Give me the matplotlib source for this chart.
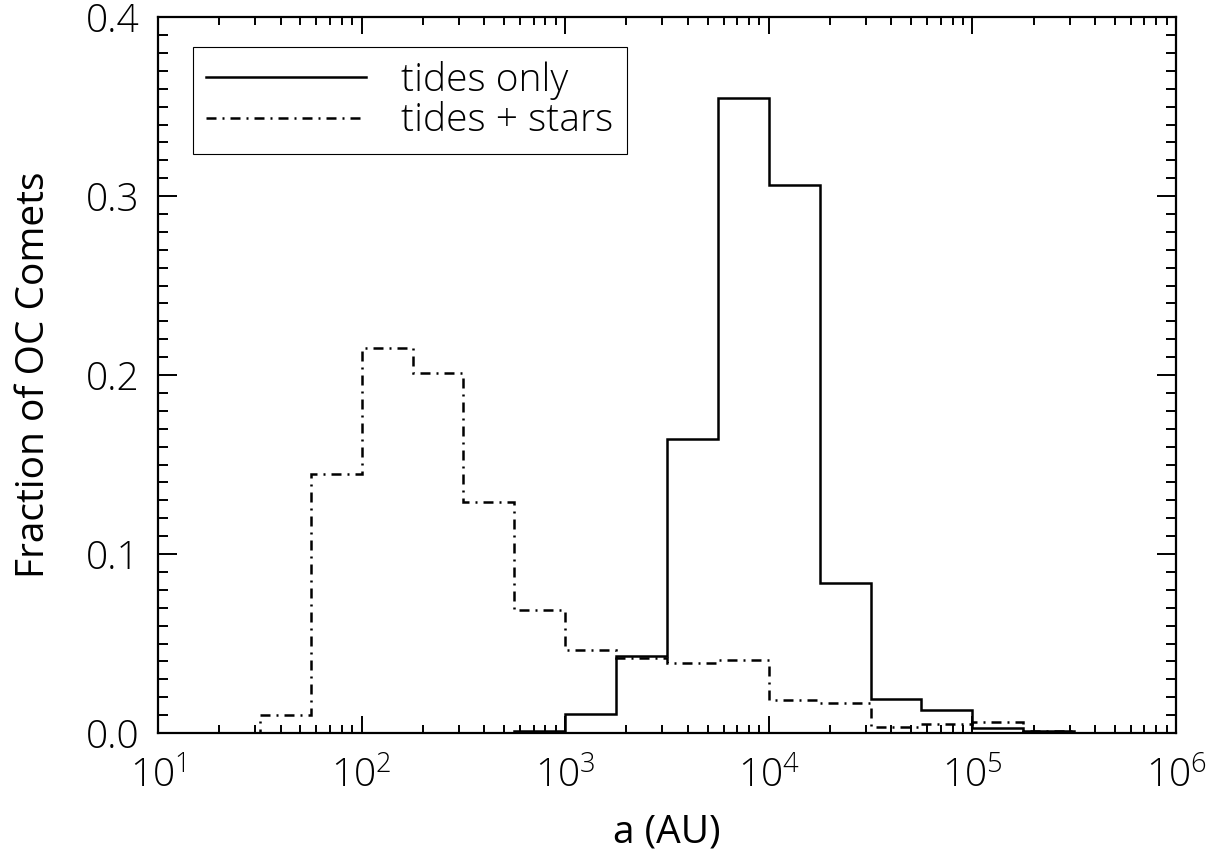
import numpy as np
import matplotlib
matplotlib.use("Agg")
import matplotlib.pyplot as plt
from matplotlib.ticker import LogLocator, MultipleLocator, FormatStrFormatter

# quarter-decade bins in semi-major axis, 10 AU .. 10^5.5 AU
log_edges = np.arange(1.0, 5.5 + 0.001, 0.25)
bin_edges = 10 ** log_edges

tides_only = [0, 0, 0, 0, 0, 0, 0, 0.001, 0.0106, 0.043, 0.164, 0.355,
              0.306, 0.0836, 0.0188, 0.013, 0.003, 0.001]
tides_stars = [0, 0, 0.010, 0.1445, 0.215, 0.201, 0.129, 0.0687, 0.0464,
               0.042, 0.039, 0.041, 0.0185, 0.0165, 0.0035, 0.005, 0.0063, 0.001]

plt.rcParams['font.family'] = ['Open Sans', 'DejaVu Sans']
plt.rcParams['font.weight'] = 'light'
plt.rcParams['mathtext.fontset'] = 'custom'
plt.rcParams['mathtext.rm'] = 'Open Sans:light'
plt.rcParams['mathtext.default'] = 'rm'

FS = 28

fig = plt.figure(figsize=(12.26, 8.56), dpi=100)
ax = fig.add_axes([0.1289, 0.1437, 0.8303, 0.8363])

ax.stairs(tides_only, bin_edges, color='black', lw=1.8, label='tides only')
ax.stairs(tides_stars, bin_edges, color='black', lw=1.8,
          linestyle=(0, (4, 2.4, 0.8, 2.4)), label='tides + stars')

ax.set_xscale('log')
ax.set_xlim(10, 1e6)
ax.set_ylim(0, 0.4)

ax.xaxis.set_major_locator(LogLocator(base=10, numticks=10))
ax.xaxis.set_minor_locator(LogLocator(base=10, subs=np.arange(2, 10), numticks=20))
ax.yaxis.set_major_locator(MultipleLocator(0.1))
ax.yaxis.set_minor_locator(MultipleLocator(0.01))
ax.yaxis.set_major_formatter(FormatStrFormatter('%.1f'))

ax.tick_params(which='both', direction='in', top=True, right=True,
               labelsize=FS, width=1.4, color='black')
ax.tick_params(axis='y', which='major', length=14, pad=13)
ax.tick_params(axis='y', which='minor', length=7)
ax.tick_params(axis='x', which='major', length=12, pad=18)
ax.tick_params(axis='x', which='minor', length=6)

for sp in ax.spines.values():
    sp.set_linewidth(1.6)

ax.set_xlabel('a (AU)', fontsize=FS, labelpad=12)
ax.set_ylabel('Fraction of OC Comets', fontsize=FS, labelpad=24)

leg = ax.legend(loc='upper left', bbox_to_anchor=(0.034, 0.958), fontsize=FS,
                handlelength=4.1, handletextpad=0.9, borderpad=0.35,
                labelspacing=0.05, fancybox=False, framealpha=1,
                edgecolor='black', borderaxespad=0)
leg.get_frame().set_linewidth(0.8)

fig.savefig('out.png', dpi=100)
